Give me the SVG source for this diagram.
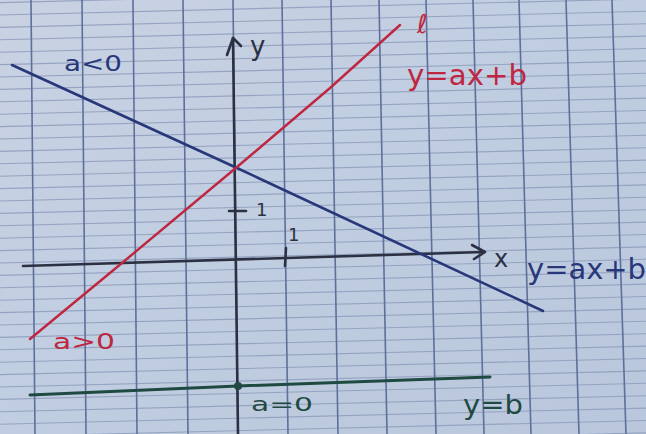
<svg xmlns="http://www.w3.org/2000/svg" width="646" height="434" viewBox="0 0 646 434">
<style>
.h{stroke:#95a3c0;stroke-width:1.1;fill:none}
.v{stroke:#5d709b;stroke-width:1.6;fill:none}
.ax{stroke:#2b3142;stroke-width:2.6;fill:none;stroke-linecap:round;stroke-linejoin:round}
.t{font-family:"DejaVu Sans","Liberation Sans",sans-serif}
.blue{fill:#27377a}
.red{fill:#bf2640}
.green{fill:#1f4a42}
.dark{fill:#2b3142}
</style>
<defs>
<linearGradient id="paper" x1="0" y1="0" x2="1" y2="1">
<stop offset="0" stop-color="#c8d2e3"/>
<stop offset="0.6" stop-color="#bfcce0"/>
<stop offset="1" stop-color="#b9c6db"/>
</linearGradient>
</defs>
<rect width="646" height="434" fill="url(#paper)"/>
<g id="grid-h">
<line class="h" x1="0" y1="2.6" x2="646" y2="-13.5"/>
<line class="h" x1="0" y1="15" x2="646" y2="-1.1"/>
<line class="h" x1="0" y1="27.4" x2="646" y2="11.3"/>
<line class="h" x1="0" y1="39.8" x2="646" y2="23.7"/>
<line class="h" x1="0" y1="52.2" x2="646" y2="36.1"/>
<line class="h" x1="0" y1="64.6" x2="646" y2="48.5"/>
<line class="h" x1="0" y1="77" x2="646" y2="60.9"/>
<line class="h" x1="0" y1="89.4" x2="646" y2="73.3"/>
<line class="h" x1="0" y1="101.8" x2="646" y2="85.7"/>
<line class="h" x1="0" y1="114.2" x2="646" y2="98.1"/>
<line class="h" x1="0" y1="126.6" x2="646" y2="110.5"/>
<line class="h" x1="0" y1="139" x2="646" y2="122.9"/>
<line class="h" x1="0" y1="151.4" x2="646" y2="135.3"/>
<line class="h" x1="0" y1="163.8" x2="646" y2="147.7"/>
<line class="h" x1="0" y1="176.2" x2="646" y2="160.1"/>
<line class="h" x1="0" y1="188.6" x2="646" y2="172.5"/>
<line class="h" x1="0" y1="201" x2="646" y2="184.9"/>
<line class="h" x1="0" y1="213.4" x2="646" y2="197.3"/>
<line class="h" x1="0" y1="225.8" x2="646" y2="209.7"/>
<line class="h" x1="0" y1="238.2" x2="646" y2="222.1"/>
<line class="h" x1="0" y1="250.6" x2="646" y2="234.5"/>
<line class="h" x1="0" y1="263" x2="646" y2="246.9"/>
<line class="h" x1="0" y1="275.4" x2="646" y2="259.3"/>
<line class="h" x1="0" y1="287.8" x2="646" y2="271.7"/>
<line class="h" x1="0" y1="300.2" x2="646" y2="284.1"/>
<line class="h" x1="0" y1="312.6" x2="646" y2="296.5"/>
<line class="h" x1="0" y1="325" x2="646" y2="308.9"/>
<line class="h" x1="0" y1="337.4" x2="646" y2="321.3"/>
<line class="h" x1="0" y1="349.8" x2="646" y2="333.7"/>
<line class="h" x1="0" y1="362.2" x2="646" y2="346.1"/>
<line class="h" x1="0" y1="374.6" x2="646" y2="358.5"/>
<line class="h" x1="0" y1="387" x2="646" y2="370.9"/>
<line class="h" x1="0" y1="399.4" x2="646" y2="383.3"/>
<line class="h" x1="0" y1="411.8" x2="646" y2="395.7"/>
<line class="h" x1="0" y1="424.2" x2="646" y2="408.1"/>
<line class="h" x1="0" y1="436.6" x2="646" y2="420.5"/>
<line class="h" x1="0" y1="449" x2="646" y2="432.9"/>
</g>
<g id="grid-v">
<line class="v" x1="31" y1="0" x2="35" y2="434"/>
<line class="v" x1="82" y1="0" x2="86" y2="434"/>
<line class="v" x1="133" y1="0" x2="137" y2="434"/>
<line class="v" x1="183" y1="0" x2="188" y2="434"/>
<line class="v" x1="233" y1="0" x2="238" y2="434"/>
<line class="v" x1="282" y1="0" x2="288" y2="434"/>
<line class="v" x1="331" y1="0" x2="338" y2="434"/>
<line class="v" x1="379" y1="0" x2="387" y2="434"/>
<line class="v" x1="426" y1="0" x2="436" y2="434"/>
<line class="v" x1="473" y1="0" x2="484" y2="434"/>
<line class="v" x1="519" y1="0" x2="531" y2="434"/>
<line class="v" x1="566" y1="0" x2="579" y2="434"/>
<line class="v" x1="612" y1="0" x2="626" y2="434"/>
</g>
<g id="axes">
<g id="x-axis">
<path class="ax" d="M23 266 L484 252"/>
<path class="ax" d="M472 245 L485 252 L474 259"/>
<path class="ax" d="M286 248 L285 266"/>
</g>
<g id="y-axis">
<path class="ax" d="M233 38 L238 434"/>
<path class="ax" d="M227 55 L233 38 L241 46"/>
<path class="ax" d="M229 211 L246 211"/>
</g>
</g>
<g id="connectors">
<path id="line-blue" d="M12 65 L237 168 L543 311" fill="none" stroke="#27377a" stroke-width="2.6" stroke-linecap="round"/>
<path id="line-red" d="M30 339 L122 263 L237 167 L330 88 L400 25" fill="none" stroke="#bf2640" stroke-width="2.4" stroke-linecap="round"/>
<path id="line-green" d="M30 395 L238 386 L490 377" fill="none" stroke="#1f4a42" stroke-width="3" stroke-linecap="round"/>
<circle cx="238" cy="386" r="4" fill="#1f4a42"/>
</g>
<g id="labels">
<text class="t blue" x="64" y="71" font-size="22" textLength="58" lengthAdjust="spacingAndGlyphs">a&lt;0</text>
<text class="t dark" x="250" y="55" font-size="26">y</text>
<text class="t dark" x="256" y="216" font-size="18">1</text>
<text class="t dark" x="288" y="241" font-size="18">1</text>
<text class="t dark" x="494" y="267" font-size="24">x</text>
<text class="t blue" x="527" y="279" font-size="28" textLength="119" lengthAdjust="spacingAndGlyphs">y=ax+b</text>
<text class="t red" x="417" y="33" font-size="26">ℓ</text>
<text class="t red" x="407" y="85" font-size="28" textLength="120" lengthAdjust="spacingAndGlyphs">y=ax+b</text>
<text class="t red" x="53" y="349" font-size="22" textLength="62" lengthAdjust="spacingAndGlyphs">a&gt;0</text>
<text class="t green" x="251" y="411" font-size="20" textLength="62" lengthAdjust="spacingAndGlyphs">a=0</text>
<text class="t green" x="463" y="414" font-size="26" textLength="60" lengthAdjust="spacingAndGlyphs">y=b</text>
</g>
</svg>
